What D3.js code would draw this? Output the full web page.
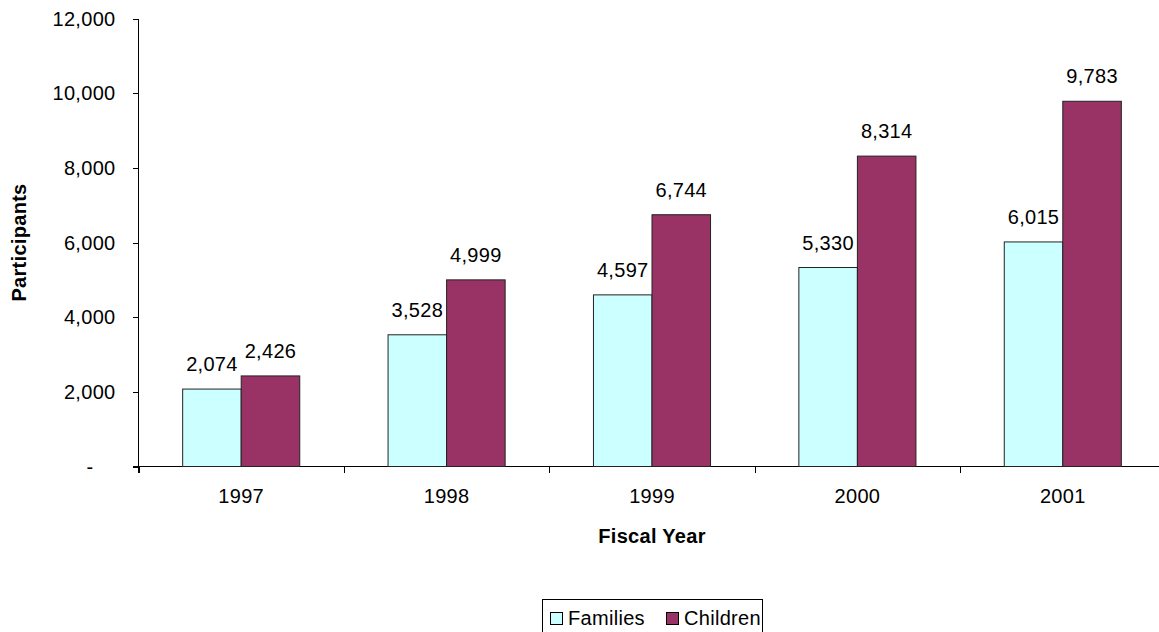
<!DOCTYPE html>
<html lang="en">
  <head>
    <meta charset="UTF-8" />
    <title>Participants by Fiscal Year</title>
    <style>
      body {
        margin: 0;
        background: #fff;
        font-family: "Liberation Sans", Arial, sans-serif;
      }
      text {
        font-size: 20px;
        letter-spacing: 0.3px;
        fill: #000;
      }
      .title {
        font-weight: bold;
      }
      .bar {
        stroke: #222;
        stroke-width: 1px;
      }
      .axis-line {
        stroke: #000;
        stroke-width: 1px;
        shape-rendering: crispEdges;
      }
    </style>
  </head>
  <body>
    <svg width="1159" height="632"></svg>

    <script src="https://d3js.org/d3.v7.min.js"></script>
    <script>
      const years = ["1997", "1998", "1999", "2000", "2001"];
      const seriesNames = ["Families", "Children"];
      const families = [2074, 3528, 4597, 5330, 6015];
      const children = [2426, 4999, 6744, 8314, 9783];
      const yTicks = [0, 2000, 4000, 6000, 8000, 10000, 12000];

      const colors = ["#CCFFFF", "#993366"];

      const plotLeft = 138.5,
        plotRight = 1165.5,
        plotTop = 18.5,
        plotBottom = 466.5;

      const svg = d3.select("svg");

      const x = d3.scaleBand().domain(years).range([plotLeft, plotRight]);
      const x1 = d3
        .scaleBand()
        .domain(seriesNames)
        .range([x.bandwidth() * 0.215, x.bandwidth() * 0.785]);
      const y = d3.scaleLinear().domain([0, 12000]).range([plotBottom, plotTop]);
      const color = d3.scaleOrdinal().domain(seriesNames).range(colors);

      const rows = years.map((yr, i) => ({
        year: yr,
        values: [
          { key: "Families", value: families[i] },
          { key: "Children", value: children[i] },
        ],
      }));

      // y axis
      const fmt = d3.format(",");
      svg
        .append("line")
        .attr("class", "axis-line")
        .attr("x1", plotLeft)
        .attr("x2", plotLeft)
        .attr("y1", plotTop)
        .attr("y2", plotBottom + 6);

      const yt = svg.append("g").selectAll("g").data(yTicks).join("g");
      yt.append("line")
        .attr("class", "axis-line")
        .attr("x1", plotLeft - 6)
        .attr("x2", plotLeft)
        .attr("y1", (d) => Math.round(y(d)) + 0.5)
        .attr("y2", (d) => Math.round(y(d)) + 0.5);
      // zero shows as a dash, padded like an accounting format
      yt.append("text")
        .attr("x", (d) => plotLeft - 23 - (d === 0 ? 22 : 0))
        .attr("y", (d) => y(d) + 7)
        .attr("text-anchor", "end")
        .text((d) => (d === 0 ? "-" : fmt(d)));

      // x axis
      svg
        .append("line")
        .attr("class", "axis-line")
        .attr("x1", plotLeft - 6)
        .attr("x2", plotRight)
        .attr("y1", plotBottom)
        .attr("y2", plotBottom);

      const boundaries = years.map((d) => x(d)).concat([plotRight]);
      svg
        .append("g")
        .selectAll("line")
        .data(boundaries)
        .join("line")
        .attr("class", "axis-line")
        .attr("x1", (d) => Math.round(d) + 0.5)
        .attr("x2", (d) => Math.round(d) + 0.5)
        .attr("y1", plotBottom)
        .attr("y2", plotBottom + 6);

      svg
        .append("g")
        .selectAll("text")
        .data(years)
        .join("text")
        .attr("x", (d) => x(d) + x.bandwidth() / 2)
        .attr("y", 503)
        .attr("text-anchor", "middle")
        .text((d) => d);

      // bars
      const groups = svg
        .append("g")
        .selectAll("g")
        .data(rows)
        .join("g")
        .attr("transform", (d) => `translate(${x(d.year)},0)`);

      groups
        .selectAll("rect")
        .data((d) => d.values)
        .join("rect")
        .attr("class", "bar")
        .attr("x", (d) => x1(d.key))
        .attr("width", x1.bandwidth())
        .attr("y", (d) => y(d.value))
        .attr("height", (d) => plotBottom - y(d.value))
        .attr("fill", (d) => color(d.key));

      groups
        .selectAll("text")
        .data((d) => d.values)
        .join("text")
        .attr("x", (d) => x1(d.key) + x1.bandwidth() / 2)
        .attr("y", (d) => y(d.value) - 18)
        .attr("text-anchor", "middle")
        .text((d) => fmt(d.value));

      // axis titles
      svg
        .append("text")
        .attr("class", "title")
        .attr("x", (plotLeft + plotRight) / 2)
        .attr("y", 543)
        .attr("text-anchor", "middle")
        .text("Fiscal Year");

      svg
        .append("text")
        .attr("class", "title")
        .attr("transform", `translate(26,${(plotTop + plotBottom) / 2}) rotate(-90)`)
        .attr("text-anchor", "middle")
        .text("Participants");

      // legend
      const legend = svg.append("g");
      legend
        .append("rect")
        .attr("x", 542.5)
        .attr("y", 599.5)
        .attr("width", 220)
        .attr("height", 40)
        .attr("fill", "#fff")
        .attr("stroke", "#000");

      const legendX = [550, 666];
      const item = legend
        .selectAll("g")
        .data(seriesNames)
        .join("g")
        .attr("transform", (d, i) => `translate(${legendX[i]},0)`);
      item
        .append("rect")
        .attr("x", 0.5)
        .attr("y", 612.5)
        .attr("width", 12)
        .attr("height", 12)
        .attr("fill", (d) => color(d))
        .attr("stroke", "#000");
      item
        .append("text")
        .attr("x", 18)
        .attr("y", 625)
        .text((d) => d);
    </script>
  </body>
</html>
